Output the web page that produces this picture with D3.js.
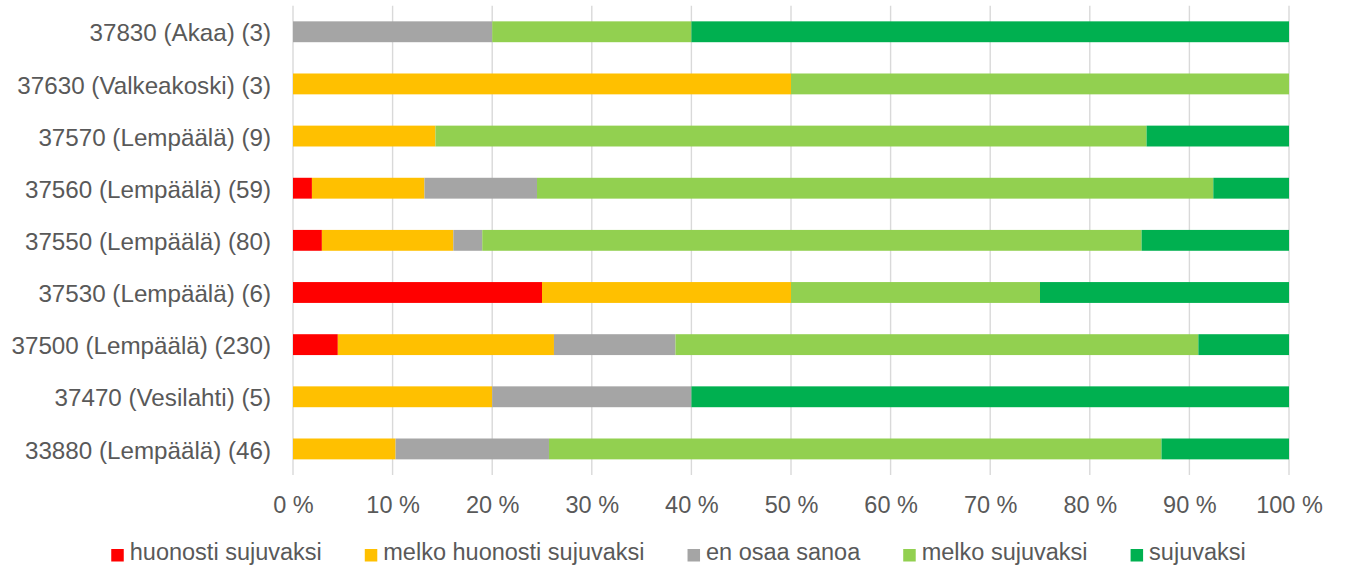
<!DOCTYPE html>
<html>
<head>
<meta charset="utf-8">
<script src="https://cdn.jsdelivr.net/npm/d3@7"></script>
<style>
	body { margin: 0; background: #fff; }
	text { font-family: "Liberation Sans", Arial, sans-serif; fill: #595959; }
</style>
</head>
<body>
<div id="chart"></div>
<script>
// Data (percent of answers)
const categories = [
	"37830 (Akaa) (3)",
	"37630 (Valkeakoski) (3)",
	"37570 (Lempäälä) (9)",
	"37560 (Lempäälä) (59)",
	"37550 (Lempäälä) (80)",
	"37530 (Lempäälä) (6)",
	"37500 (Lempäälä) (230)",
	"37470 (Vesilahti) (5)",
	"33880 (Lempäälä) (46)",
];

const seriesNames = ["huonosti sujuvaksi", "melko huonosti sujuvaksi", "en osaa sanoa", "melko sujuvaksi", "sujuvaksi"];
const seriesColors = ["#FF0000", "#FFC000", "#A5A5A5", "#92D050", "#00B050"];

const huonosti = [0, 0, 0, 1.9, 2.9, 25, 4.5, 0, 0];
const melkoHuonosti = [0, 50, 14.3, 11.3, 13.2, 25, 21.7, 20, 10.3];
const enOsaa = [20, 0, 0, 11.3, 2.9, 0, 12.2, 20, 15.4];
const melkoSujuvaksi = [20, 50, 71.4, 67.9, 66.2, 25, 52.5, 0, 61.5];
const sujuvaksi = [60, 0, 14.3, 7.6, 14.8, 25, 9.1, 60, 12.8];

const xTicks = [0, 10, 20, 30, 40, 50, 60, 70, 80, 90, 100];

const seriesValues = [huonosti, melkoHuonosti, enOsaa, melkoSujuvaksi, sujuvaksi];

// table for d3.stack
const rows = categories.map((c, i) => {
	const r = { cat: c };
	seriesNames.forEach((s, j) => { r[s] = seriesValues[j][i]; });
	return r;
});

const W = 1353, H = 568;
const plot = { left: 293, right: 1289, top: 5.7, bottom: 475 };

const svg = d3.select("#chart")
	.append("svg")
	.attr("width", W)
	.attr("height", H);

const x = d3.scaleLinear()
	.domain([0, 100])
	.range([plot.left, plot.right]);

const y = d3.scaleBand()
	.domain(categories)
	.range([plot.top, plot.bottom])
	.paddingInner(0.6)
	.paddingOuter(0.3);

// Gridlines
svg.append("g")
	.selectAll("line")
	.data(xTicks)
	.join("line")
	.attr("x1", d => x(d))
	.attr("x2", d => x(d))
	.attr("y1", plot.top)
	.attr("y2", plot.bottom)
	.attr("stroke", "#D9D9D9")
	.attr("stroke-width", 1.4);

// Bars
const stacked = d3.stack().keys(seriesNames)(rows);
const color = d3.scaleOrdinal().domain(seriesNames).range(seriesColors);

svg.append("g")
	.selectAll("g")
	.data(stacked)
	.join("g")
	.attr("fill", d => color(d.key))
	.selectAll("rect")
	.data(d => d.filter(p => p[1] - p[0] > 0))
	.join("rect")
	.attr("x", d => x(d[0]))
	.attr("y", d => y(d.data.cat))
	.attr("width", d => x(d[1]) - x(d[0]))
	.attr("height", y.bandwidth());

// X axis labels
const xAxis = svg.append("g")
	.attr("transform", `translate(0,${plot.bottom})`)
	.call(d3.axisBottom(x).tickValues(xTicks).tickFormat(d => d + " %").tickSize(0).tickPadding(21));
xAxis.select(".domain").remove();
xAxis.selectAll("text")
	.attr("fill", "#595959")
	.style("font-size", "23.5px")
	.style("font-family", "'Liberation Sans', Arial, sans-serif");

// Y axis labels
const yAxis = svg.append("g")
	.attr("transform", `translate(${plot.left},0)`)
	.call(d3.axisLeft(y).tickSize(0).tickPadding(22));
yAxis.select(".domain").remove();
yAxis.selectAll("text")
	.attr("fill", "#595959")
	.attr("dy", "0.4em")
	.style("font-size", "24.2px")
	.style("font-family", "'Liberation Sans', Arial, sans-serif");

// Legend
const legend = svg.append("g");
const items = legend.selectAll("g")
	.data(seriesNames)
	.join("g");

items.append("rect")
	.attr("width", 12.5)
	.attr("height", 12.5)
	.attr("y", 549)
	.attr("fill", d => color(d));

items.append("text")
	.attr("x", 18.5)
	.attr("y", 560)
	.style("font-size", "23.5px")
	.text(d => d);

let pos = 0;
items.each(function () {
	const g = d3.select(this);
	g.attr("transform", `translate(${pos},0)`);
	pos += 18.5 + g.select("text").node().getComputedTextLength() + 43;
});
const total = pos - 43;
legend.attr("transform", `translate(${(W - total) / 2 + 2},0)`);
</script>
</body>
</html>
